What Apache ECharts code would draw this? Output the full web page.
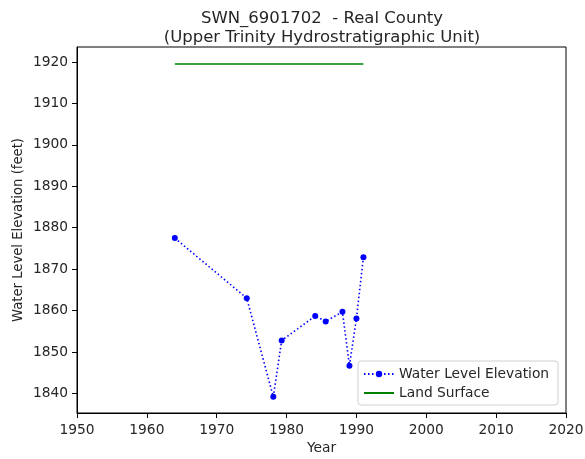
<!DOCTYPE html>
<html>
<head>
<meta charset="utf-8">
<script src="https://cdn.jsdelivr.net/npm/echarts@6/dist/echarts.min.js"></script>
<style>
html,body{margin:0;padding:0;background:#fff;}
#chart{width:585px;height:459px;}
</style>
</head>
<body>
<div id="chart"></div>
<script>
var years = [1964.0, 1974.3, 1978.1, 1979.3, 1984.1, 1985.6, 1988.0, 1989.0, 1990.0, 1991.0];
var levels = [1877.5, 1863.0, 1839.2, 1852.8, 1858.7, 1857.4, 1859.7, 1846.7, 1858.1, 1872.9];
var landYears = [1964.0, 1991.0];
var landLevels = [1919.5, 1919.5];
var xTicks = [1950, 1960, 1970, 1980, 1990, 2000, 2010, 2020];
var yTicks = [1840, 1850, 1860, 1870, 1880, 1890, 1900, 1910, 1920];
var titleLines = ['SWN_6901702  - Real County', '(Upper Trinity Hydrostratigraphic Unit)'];

var font = 'DejaVu Sans';
var txt = '#262626';
var fs = 13.8;
var chart = echarts.init(document.getElementById('chart'), null, {renderer: 'canvas'});
chart.setOption({
  animation: false,
  backgroundColor: '#fff',
  textStyle: {fontFamily: font},
  title: {
    text: titleLines.join('\n'),
    left: 317, top: 4, textAlign: 'center',
    textStyle: {fontFamily: font, fontSize: 16.5, fontWeight: 'normal', color: txt, lineHeight: 19}
  },
  grid: {left: 77, right: 19, top: 47, bottom: 46, outerBoundsMode: 'none', containLabel: false,
         show: true, borderColor: '#000', borderWidth: 1, backgroundColor: 'transparent'},
  legend: {
    orient: 'vertical', left: 358, top: 361,
    itemWidth: 30, itemHeight: 8, itemGap: 5,
    padding: [6, 9, 5, 5],
    borderColor: '#d0d0d0', borderWidth: 1, borderRadius: 3, backgroundColor: '#fff',
    textStyle: {fontFamily: font, fontSize: fs, color: txt},
    data: [
      {name: 'Water Level Elevation'},
      {name: 'Land Surface', itemStyle: {opacity: 0}}
    ]
  },
  xAxis: {
    type: 'value', min: 1950, max: 2020, interval: 10,
    name: 'Year', nameLocation: 'middle', nameGap: 28,
    nameTextStyle: {fontFamily: font, fontSize: fs, color: txt},
    axisLine: {lineStyle: {color: '#000', width: 1}},
    axisTick: {length: 5, lineStyle: {color: '#000'}},
    axisLabel: {fontFamily: font, fontSize: fs, color: txt, margin: 10, formatter: function(v){return String(v);}},
    splitLine: {show: false}
  },
  yAxis: {
    type: 'value', min: 1835.3, max: 1923.6,
    name: 'Water Level Elevation (feet)', nameLocation: 'middle', nameGap: 52, nameMoveOverlap: false,
    nameTextStyle: {fontFamily: font, fontSize: 13.2, color: txt},
    axisLine: {show: true, lineStyle: {color: '#000', width: 1}},
    axisTick: {show: true, length: 5, lineStyle: {color: '#000'}, customValues: yTicks},
    axisLabel: {fontFamily: font, fontSize: fs, color: txt, margin: 9, customValues: yTicks, formatter: function(v){return String(v);}},
    splitLine: {show: false}
  },
  series: [
    {
      name: 'Water Level Elevation', type: 'line',
      data: years.map(function(y, i){return [y, levels[i]];}),
      symbol: 'circle', symbolSize: 6,
      itemStyle: {color: '#0000ff'},
      lineStyle: {color: '#0000ff', width: 1.6, type: [1.5, 2.5]},
      z: 3
    },
    {
      name: 'Land Surface', type: 'line',
      data: landYears.map(function(y, i){return [y, landLevels[i]];}),
      symbol: 'none',
      itemStyle: {color: '#008000'},
      lineStyle: {color: '#008000', width: 1.6}
    }
  ]
});
</script>
</body>
</html>
